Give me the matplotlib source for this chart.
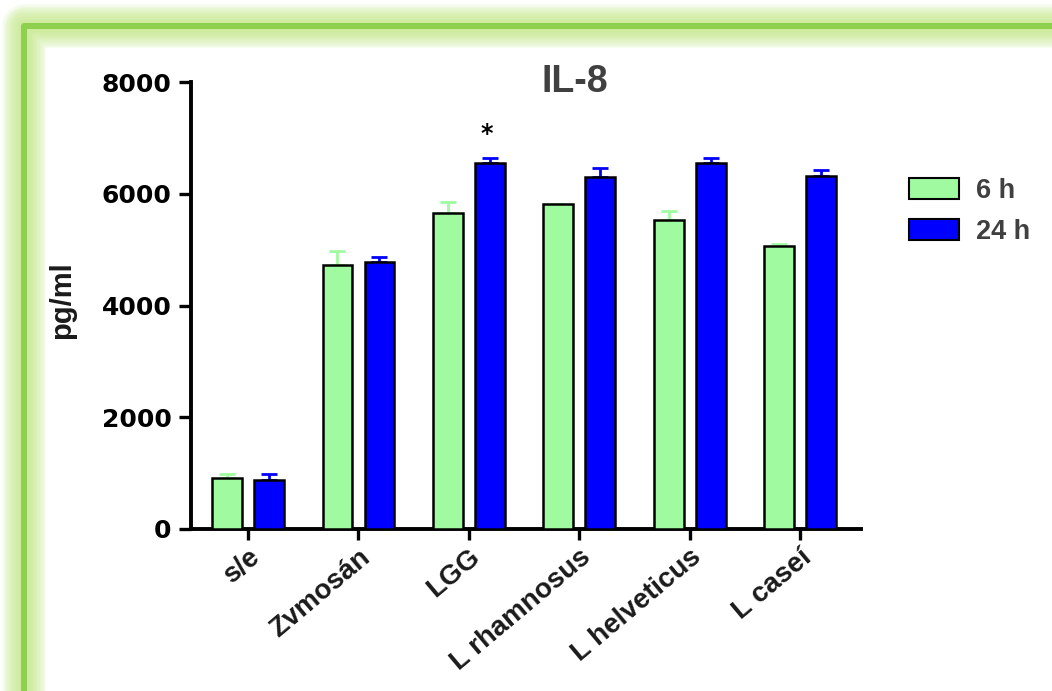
import numpy as np
import matplotlib
matplotlib.use("Agg")
import matplotlib.pyplot as plt
from matplotlib.patches import Rectangle

# IL-8 secretion (pg/ml) after stimulation, mean and SEM
categories = ["s/e", "Zvmosán", "LGG", "L rhamnosus", "L helveticus", "L caseí"]
il8_6h = [912, 4720, 5650, 5810, 5530, 5070]
sem_6h = [66, 260, 200, 10, 155, 30]
il8_24h = [882, 4776, 6553, 6292, 6547, 6320]
sem_24h = [107, 100, 95, 160, 100, 100]
series_labels = ["6 h", "24 h"]
y_ticks = [0, 2000, 4000, 6000, 8000]
significant = [(2, "24 h")]  # group index, series

GREEN = "#a0fba0"
BLUE = "#0000ff"
FRAME = "#8fd14f"
GLOW = "#c4ea86"

W, H = 1052, 691
fig = plt.figure(figsize=(W / 100, H / 100), dpi=100)
fig.patch.set_facecolor("white")
PT = 72 / 100  # points per pixel

# decorative glowing frame around the figure
def px_rect(x0, y0, x1, y1, **kw):
    return Rectangle((x0 / W, 1 - y1 / H), (x1 - x0) / W, (y1 - y0) / H,
                     transform=fig.transFigure, fill=False, **kw)

fx0, fy0, fx1, fy1 = 23.5, 26, 1058, 698
for wpx in np.linspace(44, 8, 12):
    fig.add_artist(px_rect(fx0, fy0, fx1, fy1, edgecolor=GLOW, lw=wpx * PT,
                           alpha=0.12, joinstyle="round"))
fig.add_artist(px_rect(fx0, fy0, fx1, fy1, edgecolor=FRAME, lw=6 * PT,
                       joinstyle="round"))

ax = fig.add_axes([191 / W, 1 - 529 / H, (861 - 191) / W, (529 - 82) / H])
ax.set_facecolor("none")

x = np.arange(len(categories))
off, bw = 0.19, 0.27
ax.bar(x - off, il8_6h, bw, color=GREEN, edgecolor="black", linewidth=1.8,
       label=series_labels[0], zorder=3)
ax.bar(x + off, il8_24h, bw, color=BLUE, edgecolor="black", linewidth=1.8,
       label=series_labels[1], zorder=3)
zeros = np.zeros(len(categories))
ax.errorbar(x - off, il8_6h, yerr=[zeros, sem_6h], fmt="none", ecolor=GREEN,
            elinewidth=2, capsize=5.5, capthick=2, zorder=2)
ax.errorbar(x + off, il8_24h, yerr=[zeros, sem_24h], fmt="none", ecolor=BLUE,
            elinewidth=2, capsize=5.5, capthick=2, zorder=2)

for idx, ser in significant:
    if ser == series_labels[1]:
        xp, top = x[idx] + off, il8_24h[idx] + sem_24h[idx]
    else:
        xp, top = x[idx] - off, il8_6h[idx] + sem_6h[idx]
    ax.annotate("*", (xp, top), xytext=(-2, 8), textcoords="offset points",
                ha="center", va="bottom", fontsize=17, fontweight="bold",
                family="DejaVu Sans", color="black")

ax.set_xlim(-0.516, 5.55)
ax.set_ylim(0, 8000)
ax.set_yticks(y_ticks)
ax.set_yticklabels([str(t) for t in y_ticks], family="DejaVu Sans",
                   fontweight="bold", fontsize=18)
ax.set_xticks(x)
ax.set_xticklabels(categories, rotation=40, ha="right", va="top",
                   rotation_mode="anchor", family="Liberation Sans",
                   fontweight="bold", fontsize=20, color="#1a1a1a")

for s in ["top", "right"]:
    ax.spines[s].set_visible(False)
ax.spines["left"].set_linewidth(2.8)
ax.spines["bottom"].set_linewidth(2.8)
ax.spines["left"].set_bounds(0, 8000)
ax.tick_params(axis="y", direction="out", length=9, width=2.4, pad=5)
ax.tick_params(axis="x", direction="out", length=8, width=2.4, pad=3)

ax.set_ylabel("pg/ml", family="Liberation Sans", fontweight="bold",
              fontsize=21, color="#1a1a1a")
ax.yaxis.set_label_coords(-0.172, 0.512)

fig.text(575 / W, 1 - 92 / H, "IL-8", ha="center", va="baseline",
         family="Liberation Sans", fontweight="bold", fontsize=27,
         color="#404040")

leg = ax.legend(loc="upper left", bbox_to_anchor=(909 / W, 1 - 178 / H),
                bbox_transform=fig.transFigure, frameon=False,
                prop={"family": "Liberation Sans", "weight": "bold",
                      "size": 19.5},
                handlelength=1.86, handleheight=0.8, handletextpad=0.6,
                labelspacing=0.55, borderpad=0, borderaxespad=0)
for t in leg.get_texts():
    t.set_color("#404040")
for p in leg.get_patches():
    p.set_linewidth(1.5)

fig.savefig("out.png", dpi=100)
